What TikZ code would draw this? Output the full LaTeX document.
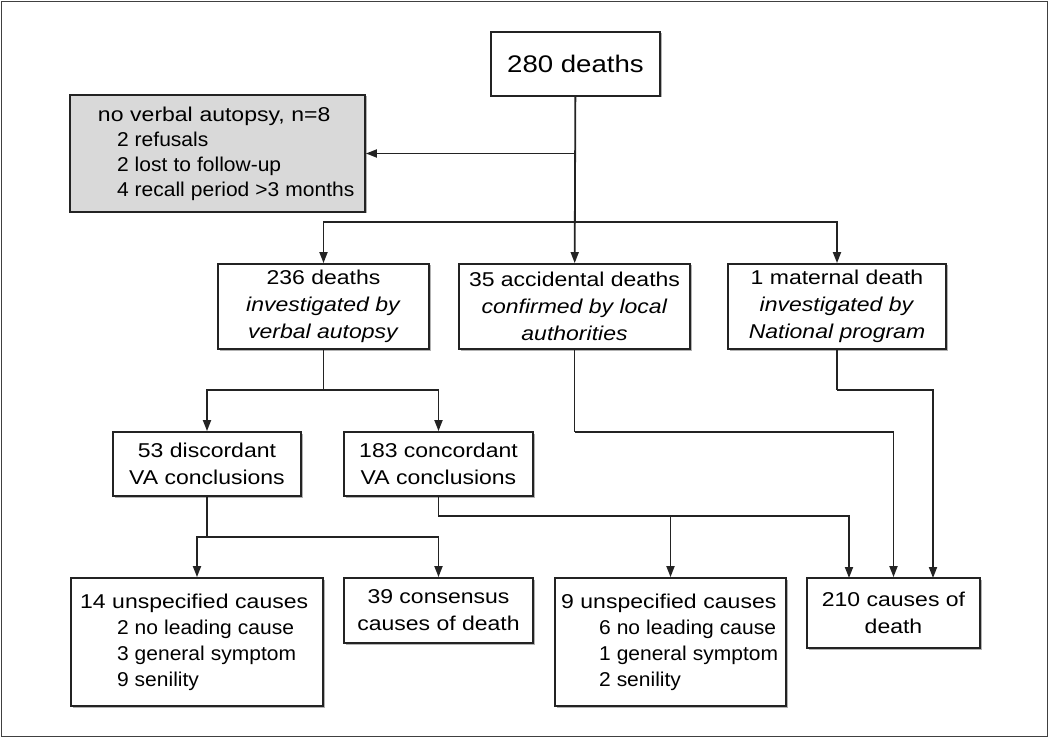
\documentclass[tikz,border=0pt]{standalone}
\usepackage{fontspec}
\usepackage{graphicx}
\setmainfont{Liberation Sans}[FakeStretch=1.15]
\usetikzlibrary{arrows.meta,shadows}
\definecolor{boxgrey}{RGB}{217,217,217}
\definecolor{linec}{RGB}{35,35,35}
\newcommand\subln[1]{\scalebox{0.913}[1]{#1}}
\begin{document}
\begin{tikzpicture}[x=1pt,y=-1pt,
  box/.style={draw=linec,line width=1.8pt,fill=white,inner sep=0pt,align=center,
    font=\fontsize{20pt}{27pt}\selectfont,
    drop shadow={shadow xshift=1.5pt,shadow yshift=-1.5pt,fill=black!30,opacity=1}},
  lbox/.style={box,align=left},
  conn/.style={draw=linec,line width=1.8pt},
  arr/.style={conn,-{Triangle[length=11pt,width=8pt]}}]
\useasboundingbox (0,0) rectangle (1050,738);
\draw[draw=black!75,line width=1.5pt] (1.5,1.5) rectangle (1047.5,736.5);

\node[box,minimum width=169pt,minimum height=64pt,font=\fontsize{24pt}{28pt}\selectfont] (d280) at (575.5,64) {280 deaths};
\node[lbox,fill=boxgrey,text width=295pt,minimum height=117pt,font=\fontsize{20pt}{25pt}\selectfont] (nova) at (217.5,153.5)
  {\hspace*{28pt}\mbox{no verbal autopsy, n=8}\\\hspace*{47pt}\subln{2 refusals}\\\hspace*{47pt}\subln{2 lost to follow-up}\\\hspace*{47pt}\subln{4 recall period >3 months}};
\node[box,minimum width=211pt,minimum height=85pt] (d236) at (323.5,306.5) {236 deaths\\\textit{investigated by}\\\textit{verbal autopsy}};
\node[box,minimum width=231pt,minimum height=85pt] (acc) at (574.5,306.5) {35 accidental deaths\\\textit{confirmed by local}\\\textit{authorities}};
\node[box,minimum width=218pt,minimum height=85pt] (mat) at (837,306.5) {1 maternal death\\\textit{investigated by}\\\textit{National program}};
\node[box,minimum width=188pt,minimum height=64pt] (disc) at (207,464) {53 discordant\\VA conclusions};
\node[box,minimum width=189pt,minimum height=64pt] (conc) at (438.5,464) {183 concordant\\VA conclusions};
\node[lbox,text width=252pt,minimum height=128pt,font=\fontsize{20pt}{26pt}\selectfont] (u14) at (197,642)
  {\hspace*{9pt}\mbox{14 unspecified causes}\\\hspace*{46pt}\subln{2 no leading cause}\\\hspace*{46pt}\subln{3 general symptom}\\\hspace*{46pt}\subln{9 senility}};
\node[box,minimum width=189pt,minimum height=65pt] (cons) at (438.5,610.5) {39 consensus\\causes of death};
\node[lbox,text width=231pt,minimum height=128pt,font=\fontsize{20pt}{26pt}\selectfont] (u9) at (670.5,642)
  {\hspace*{6pt}\mbox{9 unspecified causes}\\\hspace*{44pt}\subln{6 no leading cause}\\\hspace*{44pt}\subln{1 general symptom}\\\hspace*{44pt}\subln{2 senility}};
\node[box,minimum width=173pt,minimum height=70pt] (c210) at (893.5,613) {210 causes of\\death};

\coordinate (j1) at (575.5,153.5);
\coordinate (j2) at (575.5,222);
\draw[arr] (d280) -- (acc);
\draw[arr] (j1) -- (nova);
\draw[arr] (j2) -| (d236);
\draw[arr] (j2) -| (mat);

\coordinate (j3) at (323.5,390);
\draw[conn] (d236) -- (j3);
\draw[arr] (j3) -| (disc);
\draw[arr] (j3) -| (conc);

\coordinate (j4) at (207,537);
\draw[conn] (disc) -- (j4);
\draw[arr] (j4) -| (u14);
\draw[arr] (j4) -| (cons);

\coordinate (j5) at (438.5,516);
\coordinate (j6) at (670.5,516);
\coordinate (e1) at (849,578);
\draw[conn] (conc) -- (j5) -- (j6);
\draw[arr] (j6) -- (u9);
\draw[arr] (j6) -| (e1);

\coordinate (j7) at (574.5,432);
\draw[conn] (acc) -- (j7);
\draw[arr] (j7) -| (c210);

\coordinate (j8) at (837,390);
\coordinate (e2) at (933,578);
\draw[conn] (mat) -- (j8);
\draw[arr] (j8) -| (e2);
\end{tikzpicture}
\end{document}
